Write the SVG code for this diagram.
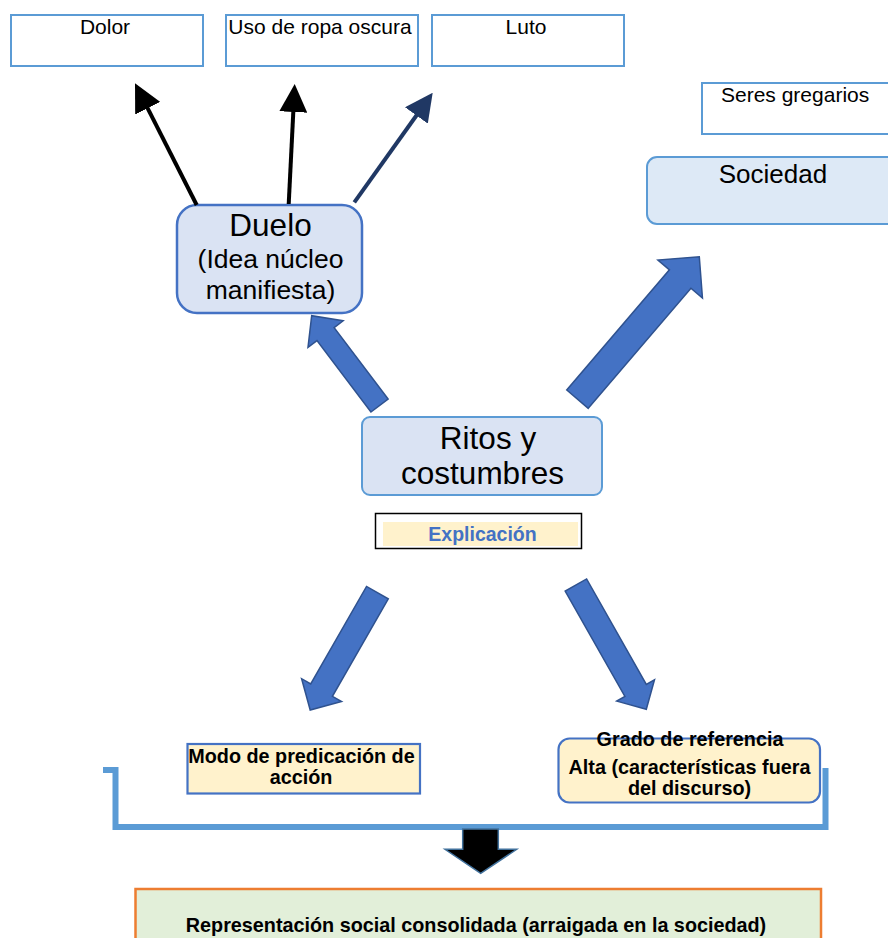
<svg xmlns="http://www.w3.org/2000/svg" width="888" height="938" viewBox="0 0 888 938">
  <style>
    text { font-family: "Liberation Sans", Arial, sans-serif; fill: #000; }
    .box { fill: #fff; stroke: #5b9bd5; stroke-width: 2; }
    .soft { fill: #dae3f3; }
    .note { fill: #fff2cc; stroke: #4472c4; stroke-width: 2.2; }
    .block { fill: #4472c4; stroke: #2f528f; stroke-width: 1.5; stroke-linejoin: miter; }
    .thin { fill: none; stroke-width: 4; }
    .t20 { font-size: 21px; text-anchor: middle; }
    .b { font-size: 19.8px; font-weight: bold; text-anchor: middle; }
  </style>
  <defs>
    <marker id="headBlack" markerUnits="userSpaceOnUse" markerWidth="28" markerHeight="28" viewBox="0 0 28 28" refX="8" refY="14" orient="auto">
      <path d="M0,0 L28,14 L0,28 z" fill="#000"/>
    </marker>
    <marker id="headNavy" markerUnits="userSpaceOnUse" markerWidth="28" markerHeight="28" viewBox="0 0 28 28" refX="8" refY="14" orient="auto">
      <path d="M0,0 L28,14 L0,28 z" fill="#203864"/>
    </marker>
  </defs>

  <!-- top attribute boxes -->
  <g id="dolor">
    <rect class="box" x="11" y="15" width="192" height="51"/>
    <text class="t20" x="105" y="34">Dolor</text>
  </g>
  <g id="uso-ropa">
    <rect class="box" x="226" y="15" width="192" height="51"/>
    <text class="t20" x="320" y="34">Uso de ropa oscura</text>
  </g>
  <g id="luto">
    <rect class="box" x="432" y="15" width="192" height="51"/>
    <text class="t20" x="526" y="34">Luto</text>
  </g>

  <g id="seres-gregarios">
    <rect class="box" x="702" y="83" width="200" height="51"/>
    <text x="721" y="102" style="font-size:21px">Seres gregarios</text>
  </g>

  <g id="sociedad">
    <rect x="647" y="157" width="260" height="67" rx="10" fill="#dde9f6" stroke="#5b9bd5" stroke-width="2"/>
    <text x="773" y="183" style="font-size:26px;text-anchor:middle">Sociedad</text>
  </g>

  <g id="duelo">
    <rect class="soft" x="177" y="205" width="185" height="108" rx="20" stroke="#4472c4" stroke-width="2.5"/>
    <text x="270.5" y="236" style="font-size:31.5px;text-anchor:middle">Duelo</text>
    <text x="270.5" y="267.5" style="font-size:26.5px;text-anchor:middle">(Idea núcleo</text>
    <text x="270.5" y="298.5" style="font-size:26.5px;text-anchor:middle">manifiesta)</text>
  </g>

  <g id="ritos">
    <rect class="soft" x="362" y="417" width="240" height="78" rx="8" stroke="#5b9bd5" stroke-width="2"/>
    <text x="488" y="448.5" style="font-size:31.5px;text-anchor:middle">Ritos y</text>
    <text x="482.5" y="484" style="font-size:31.5px;text-anchor:middle">costumbres</text>
  </g>

  <g id="explicacion">
    <rect x="375.5" y="513.5" width="206" height="35" fill="#fff" stroke="#000" stroke-width="1.5"/>
    <rect x="383" y="522" width="195" height="24" fill="#fff2cc"/>
    <text class="b" x="482.5" y="541" style="fill:#4472c4;font-size:19.5px">Explicación</text>
  </g>

  <g id="modo-predicacion">
    <rect class="note" x="187.5" y="744" width="232.5" height="49.5"/>
    <text class="b" x="301.5" y="762.5">Modo de predicación de</text>
    <text class="b" x="301" y="784">acción</text>
  </g>

  <g id="grado-referencia">
    <rect class="note" x="558.5" y="738.5" width="261.5" height="64" rx="11" stroke-width="2.5"/>
    <text class="b" x="690" y="746">Grado de referencia</text>
    <text class="b" x="689.5" y="773.5">Alta (características fuera</text>
    <text class="b" x="689.5" y="795">del discurso)</text>
  </g>

  <g id="representacion">
    <rect x="135.5" y="889" width="685.5" height="60" fill="#e2efd9" stroke="#ed7d31" stroke-width="2.5"/>
    <text class="b" x="476" y="932">Representación social consolidada (arraigada en la sociedad)</text>
  </g>

  <!-- connectors -->
  <g id="connectors">
    <line class="thin" x1="196.7" y1="205" x2="144.05" y2="101.14" stroke="#000" marker-end="url(#headBlack)"/>
    <line class="thin" x1="288.7" y1="204" x2="293.7" y2="103.98" stroke="#000" marker-end="url(#headBlack)"/>
    <line class="thin" x1="354.3" y1="202.3" x2="421.06" y2="108.97" stroke="#203864" marker-end="url(#headNavy)"/>

    <!-- block arrows around the central node -->
    <polygon class="block" points="388.08,399.02 334.14,327.58 343.12,320.8 311.7,315.7 308,347.32 316.98,340.54 370.92,411.98"/>
    <polygon class="block" points="588.25,408.35 690.94,288.24 702.46,298.09 699.3,256.7 657.92,259.99 669.44,269.84 566.75,389.95"/>
    <polygon class="block" points="388.25,598.86 332.43,696.33 341.54,701.55 310.2,710 301.62,678.69 310.73,683.91 366.55,586.44"/>
    <polygon class="block" points="565.2,591.06 624.91,696.48 616.73,701.11 646.3,709.3 654.49,679.73 646.31,684.36 586.6,578.94"/>

    <!-- bracket joining both results -->
    <path d="M103,770 H115.5 V827 H825.5 V768" fill="none" stroke="#5b9bd5" stroke-width="6"/>

    <!-- down arrow to the final node -->
    <polygon points="462.7,829 498.3,829 498.3,849.3 516.7,849.3 480.7,873.3 445,849.3 462.7,849.3" fill="#000" stroke="#41719c" stroke-width="1.5"/>
  </g>
</svg>
